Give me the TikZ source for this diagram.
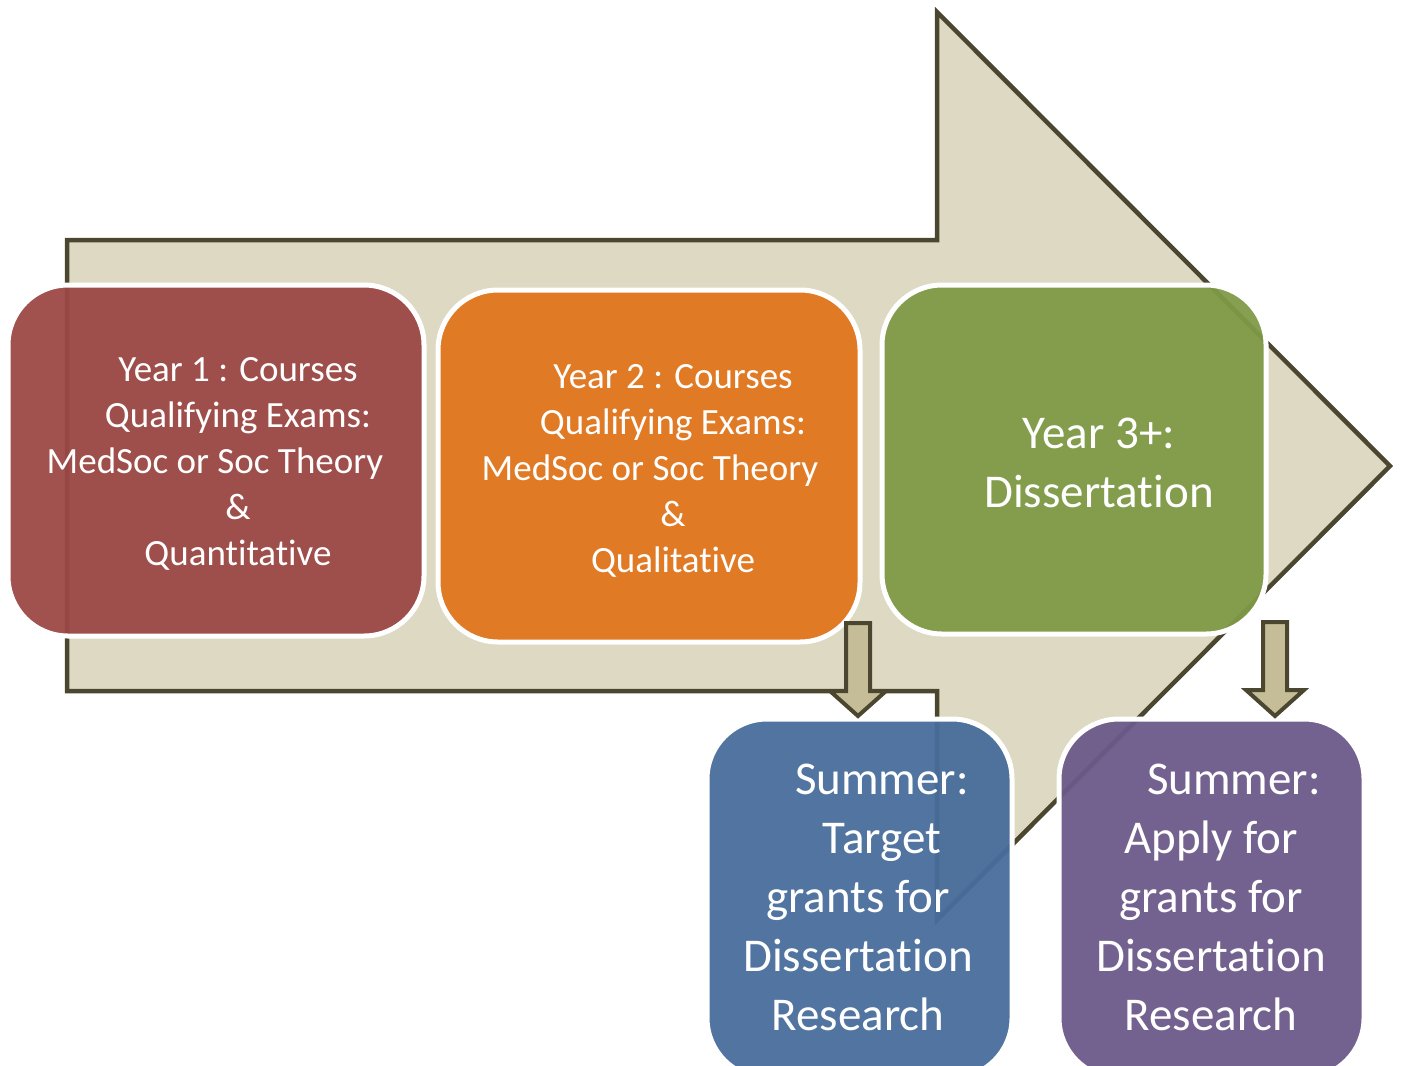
\documentclass[tikz,border=0pt]{standalone}
\usepackage{fontspec}
\setmainfont[RawFeature=-liga]{Carlito}
\definecolor{arrowfill}{HTML}{DDD9C3}
\definecolor{arrowline}{HTML}{4B4630}
\definecolor{smallfill}{HTML}{C4BD97}
\definecolor{cred}{HTML}{9C4845}
\definecolor{corange}{HTML}{E2751C}
\definecolor{cgreen}{HTML}{7F9A47}
\definecolor{cblue}{HTML}{486D9B}
\definecolor{cpurple}{HTML}{6C5A89}
\begin{document}
\begin{tikzpicture}[x=1pt,y=-1pt,
  stagebox/.style={draw=white,line width=5pt,rounded corners=60pt,fill opacity=0.95},
  stagetext/.style={text=white,align=center,inner sep=0pt},
  smalltext/.style={stagetext,font=\fontsize{37}{46}\selectfont},
  bigtext/.style={stagetext,font=\fontsize{47}{59}\selectfont},
  downarrow/.style={draw=arrowline,fill=smallfill,line width=4pt,line join=miter}]
\useasboundingbox (0,0) rectangle (1404,1065);
% big arrow
\draw[fill=arrowfill,draw=arrowline,line width=4.5pt,line join=miter]
  (67,240) -- (937,240) -- (937,12) -- (1390,466) -- (937,920) -- (937,691) -- (67,691) -- cycle;
% stage boxes
\path[stagebox,fill=cred] (8,285) rectangle (424,636);
\path[stagebox,fill=corange] (438,290) rectangle (860,642);
\path[stagebox,fill=cgreen] (882,285) rectangle (1266,634);
\path[stagebox,fill=cblue] (707,719) rectangle (1012,1078);
\path[stagebox,fill=cpurple] (1059,719) rectangle (1364,1078);
% texts
\node[smalltext] (y1) at (238,464) {Year 1 : Courses\\Qualifying Exams:\\MedSoc or Soc Theory\kern46pt\\\&\\Quantitative};
\node[smalltext] (y2) at (673,471) {Year 2 : Courses\\Qualifying Exams:\\MedSoc or Soc Theory\kern46pt\\\&\\Qualitative};
\node[bigtext] (y3) at (1099,463) {Year 3+:\\Dissertation};
\node[bigtext] (s1) at (858,897) {\hspace*{48pt}Summer:\\\hspace*{48pt}Target\\grants for\\Dissertation\\Research};
\node[bigtext] (s2) at (1211,897) {\hspace*{46pt}Summer:\\Apply for\\grants for\\Dissertation\\Research};
% small down arrows
\coordinate (a1) at (858,623);
\coordinate (a2) at (1275,622);
\draw[downarrow] (a1) ++(-12,0) -- ++(0,68) -- ++(-16,0) -- (858,716) -- ++(28,-25) -- ++(-16,0) -- ++(0,-68) -- cycle;
\draw[downarrow] (a2) ++(-12,0) -- ++(0,68) -- ++(-17,0) -- (1275,716) -- ++(29,-26) -- ++(-17,0) -- ++(0,-68) -- cycle;
\end{tikzpicture}
\end{document}
